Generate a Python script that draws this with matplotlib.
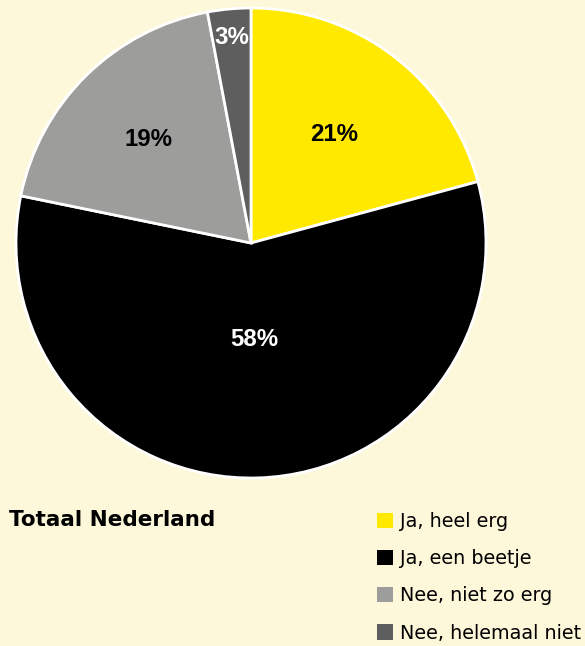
import matplotlib
matplotlib.use("Agg")
import matplotlib.pyplot as plt
import numpy as np

categories = ["Ja, heel erg", "Ja, een beetje", "Nee, niet zo erg", "Nee, helemaal niet"]
values = [21, 58, 19, 3]
labels = ["21%", "58%", "19%", "3%"]

colors = ["#FFE900", "#000000", "#9D9D9C", "#5E5E5E"]
label_colors = ["black", "white", "black", "white"]
label_radius = [0.58, 0.41, 0.62, 0.88]
bg = "#FEF8DA"

plt.rcParams["font.family"] = ["DejaVu Sans"]

fig = plt.figure(figsize=(5.85, 6.46), dpi=100, facecolor=bg)
ax = fig.add_axes([16 / 585, 168 / 646, 470 / 585, 470 / 646])
ax.set_facecolor(bg)

wedges, _ = ax.pie(values, colors=colors, startangle=90, counterclock=False,
                   wedgeprops=dict(edgecolor="white", linewidth=2))

total = sum(values)
ang = 90.0
for i, v in enumerate(values):
    span = v / total * 360
    mid = np.deg2rad(ang - span / 2)
    r = label_radius[i]
    ax.text(r * np.cos(mid), r * np.sin(mid), labels[i], ha="center", va="center",
            fontsize=17.3, fontweight="bold", color=label_colors[i],
            family=["Liberation Sans", "DejaVu Sans"])
    ang -= span

ax.set_xlim(-1, 1)
ax.set_ylim(-1, 1)
ax.set_aspect("equal")
ax.axis("off")

fig.text(9 / 585, 1 - 520 / 646, "Totaal Nederland", fontsize=15.5, fontweight="bold",
         ha="left", va="center")

leg = fig.legend(wedges, categories, loc="upper left", bbox_to_anchor=(377 / 585, 1 - 512 / 646),
                 frameon=False, fontsize=13.8, handlelength=0.85, handleheight=0.85,
                 handletextpad=0.35, labelspacing=0.95, borderpad=0, borderaxespad=0)
for h in leg.legend_handles:
    h.set_edgecolor("none")

plt.savefig("out.png", dpi=100, facecolor=bg)
